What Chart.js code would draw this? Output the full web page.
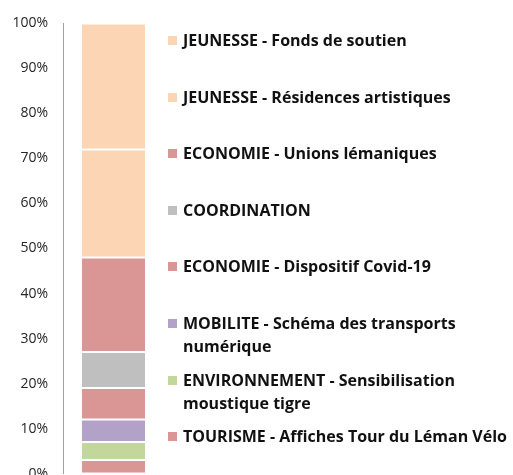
<!DOCTYPE html>
<html>
<head>
<meta charset="utf-8">
<script src="https://cdn.jsdelivr.net/npm/chart.js@4/dist/chart.umd.min.js"></script>
<style>
  html, body { margin: 0; padding: 0; background: #fff; overflow: hidden; width: 513px; height: 475px; }
  #wrap { position: absolute; left: 0; top: 0; width: 170px; height: 497px; }
  #legend { position: absolute; left: 168px; top: 29px; width: 340px; font-family: "Open Sans", sans-serif; font-weight: 700; font-size: 16px; color: #111; }
  .item { position: relative; height: 56.6px; padding-left: 15px; line-height: 23px; box-sizing: border-box; }
  .box { position: absolute; left: 0; top: 7px; width: 9px; height: 9px; }
</style>
</head>
<body>
<div id="wrap"><canvas id="chart" width="170" height="497"></canvas></div>
<div id="legend"></div>
<script>
// legend order, top to bottom (the stack is drawn bottom-up, so reversed)
const seriesNames = [
  'JEUNESSE - Fonds de soutien',
  'JEUNESSE - Résidences artistiques',
  'ECONOMIE - Unions lémaniques',
  'COORDINATION',
  'ECONOMIE - Dispositif Covid-19',
  'MOBILITE - Schéma des transports numérique',
  'ENVIRONNEMENT - Sensibilisation moustique tigre',
  'TOURISME - Affiches Tour du Léman Vélo'
]
const seriesValues = [28, 24, 21, 8, 7, 5, 4, 3]
const categories = ['']
const yTicks = [0, 10, 20, 30, 40, 50, 60, 70, 80, 90, 100]

const colors = ['#FCD5B5', '#FCD5B5', '#D99694', '#BFBFBF', '#D99694', '#B3A2C7', '#C3D69B', '#D99694']

const datasets = seriesNames.map((name, i) => ({
  label: name,
  data: [seriesValues[i]],
  backgroundColor: colors[i],
  borderColor: '#ffffff',
  borderWidth: 1,
  borderSkipped: false,
  categoryPercentage: 1,
  barPercentage: 0.644
})).reverse()

// html legend
const legendEl = document.getElementById('legend')
seriesNames.forEach((name, i) => {
  const item = document.createElement('div')
  item.className = 'item'
  const box = document.createElement('span')
  box.className = 'box'
  box.style.background = colors[i]
  item.appendChild(box)
  item.appendChild(document.createTextNode(name))
  legendEl.appendChild(item)
})

new Chart(document.getElementById('chart').getContext('2d'), {
  type: 'bar',
  data: { labels: categories, datasets: datasets },
  options: {
    responsive: false,
    animation: false,
    layout: { padding: { top: 22, bottom: 17, left: 0, right: 6 } },
    plugins: { legend: { display: false }, tooltip: { enabled: false } },
    scales: {
      x: { stacked: true, display: false },
      y: {
        stacked: true,
        min: 0,
        max: 100,
        afterFit: function(scale) { scale.width = 63 },
        afterBuildTicks: function(scale) { scale.ticks = yTicks.map(v => ({ value: v })) },
        grid: { display: false, drawTicks: false },
        border: { display: true, color: '#A0A0A0', width: 1 },
        ticks: {
          padding: 15,
          color: '#262626',
          font: { family: 'Open Sans', size: 14 },
          callback: function(value) { return value + '%' }
        }
      }
    }
  }
})
</script>
</body>
</html>
